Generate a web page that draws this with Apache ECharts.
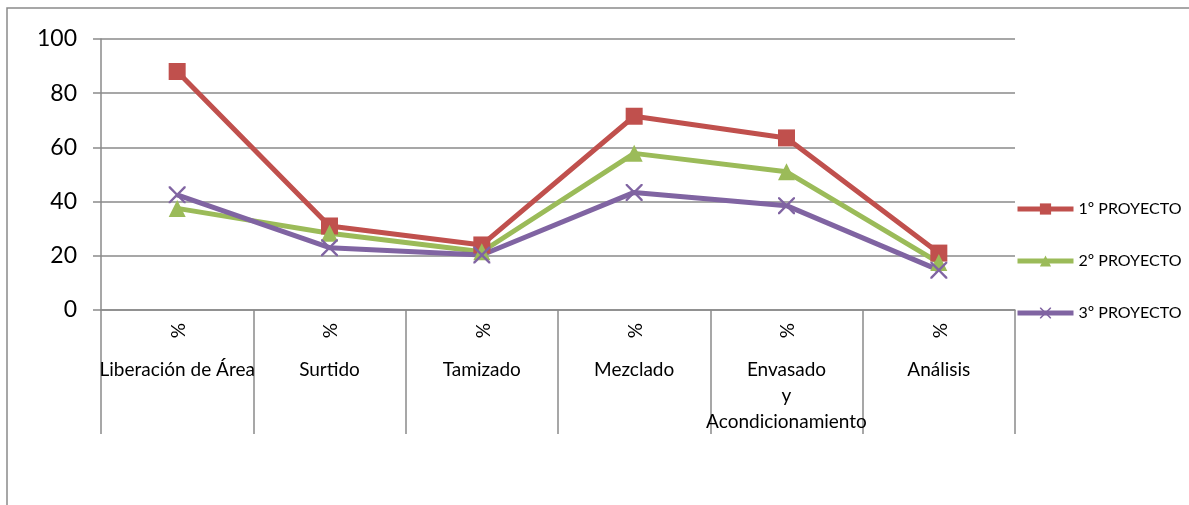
<!DOCTYPE html>
<html>
<head>
<meta charset="utf-8">
<script src="https://cdn.jsdelivr.net/npm/echarts@6/dist/echarts.min.js"></script>
<style>
  html, body { margin: 0; padding: 0; background: #fff; }
  #chart { width: 1189px; height: 505px; }
</style>
</head>
<body>
<div id="chart"></div>
<script>
// Process stages and project percentages
const categories = ['Liberación de Área', 'Surtido', 'Tamizado', 'Mezclado', 'Envasado\ny\nAcondicionamiento', 'Análisis'];
const seriesNames = ['1º PROYECTO', '2º PROYECTO', '3º PROYECTO'];
const proyecto1 = [88, 31, 24, 71.5, 63.5, 21];
const proyecto2 = [37.5, 28.3, 21.5, 57.8, 51, 17.5];
const proyecto3 = [42.5, 23, 20.3, 43.4, 38.5, 14.7];
const yTicks = { min: 0, max: 100, interval: 20 };

const gridColor = '#8a8a8a';
const font = 'Lato, "Noto Sans", sans-serif';
const crossPath = 'path://M0,0 L2,0 L10,8 L18,0 L20,0 L20,2 L12,10 L20,18 L20,20 L18,20 L10,12 L2,20 L0,20 L0,18 L8,10 L0,2 Z';

const chart = echarts.init(document.getElementById('chart'), null, { renderer: 'canvas' });

function lineSeries(name, data, color, symbol, size) {
  return {
    name: name,
    type: 'line',
    data: data,
    xAxisIndex: 0,
    symbol: symbol,
    symbolSize: size,
    showAllSymbol: true,
    lineStyle: { color: color, width: 5 },
    itemStyle: { color: color, borderWidth: 0 },
    emphasis: { disabled: true },
    animation: false
  };
}

chart.setOption({
  backgroundColor: '#fff',
  animation: false,
  graphic: [{
    type: 'rect',
    shape: { x: 7, y: 8, width: 1300, height: 600 },
    style: { fill: 'none', stroke: gridColor, lineWidth: 1.5 },
    silent: true,
    z: -10
  }],
  grid: { left: 101, top: 39, width: 914, height: 271, containLabel: false },
  legend: {
    orient: 'vertical',
    left: 1010,
    top: 196,
    itemWidth: 56,
    itemHeight: 14,
    itemGap: 36,
    lineStyle: { width: 5 },
    textStyle: { fontFamily: font, fontSize: 16, color: '#000' },
    data: seriesNames
  },
  xAxis: [{
    type: 'category',
    data: categories,
    position: 'bottom',
    boundaryGap: true,
    axisLine: { lineStyle: { color: gridColor, width: 1.5 } },
    axisTick: { show: true, length: 124, interval: 0, lineStyle: { color: gridColor, width: 1.5 } },
    axisLabel: {
      interval: 0,
      rotate: -90,
      margin: 13,
      formatter: function () { return '%'; },
      fontFamily: font,
      fontSize: 19,
      color: '#000'
    }
  }, {
    type: 'category',
    data: categories,
    position: 'bottom',
    boundaryGap: true,
    axisLine: { show: false },
    axisTick: { show: false },
    axisLabel: {
      interval: 0,
      margin: 47,
      fontFamily: font,
      fontSize: 19,
      lineHeight: 26,
      color: '#000'
    }
  }],
  yAxis: {
    type: 'value',
    min: yTicks.min,
    max: yTicks.max,
    interval: yTicks.interval,
    axisLine: { show: true, lineStyle: { color: gridColor, width: 1.5 } },
    axisTick: { show: true, length: 8, lineStyle: { color: gridColor, width: 1.5 } },
    axisLabel: { fontFamily: font, fontSize: 23, color: '#000', margin: 24 },
    splitLine: { show: true, lineStyle: { color: gridColor, width: 1.5 } }
  },
  series: [
    lineSeries(seriesNames[0], proyecto1, '#C0504D', 'rect', 17),
    lineSeries(seriesNames[1], proyecto2, '#9BBB59', 'triangle', 17),
    lineSeries(seriesNames[2], proyecto3, '#8064A2', crossPath, 17)
  ]
});
</script>
</body>
</html>
